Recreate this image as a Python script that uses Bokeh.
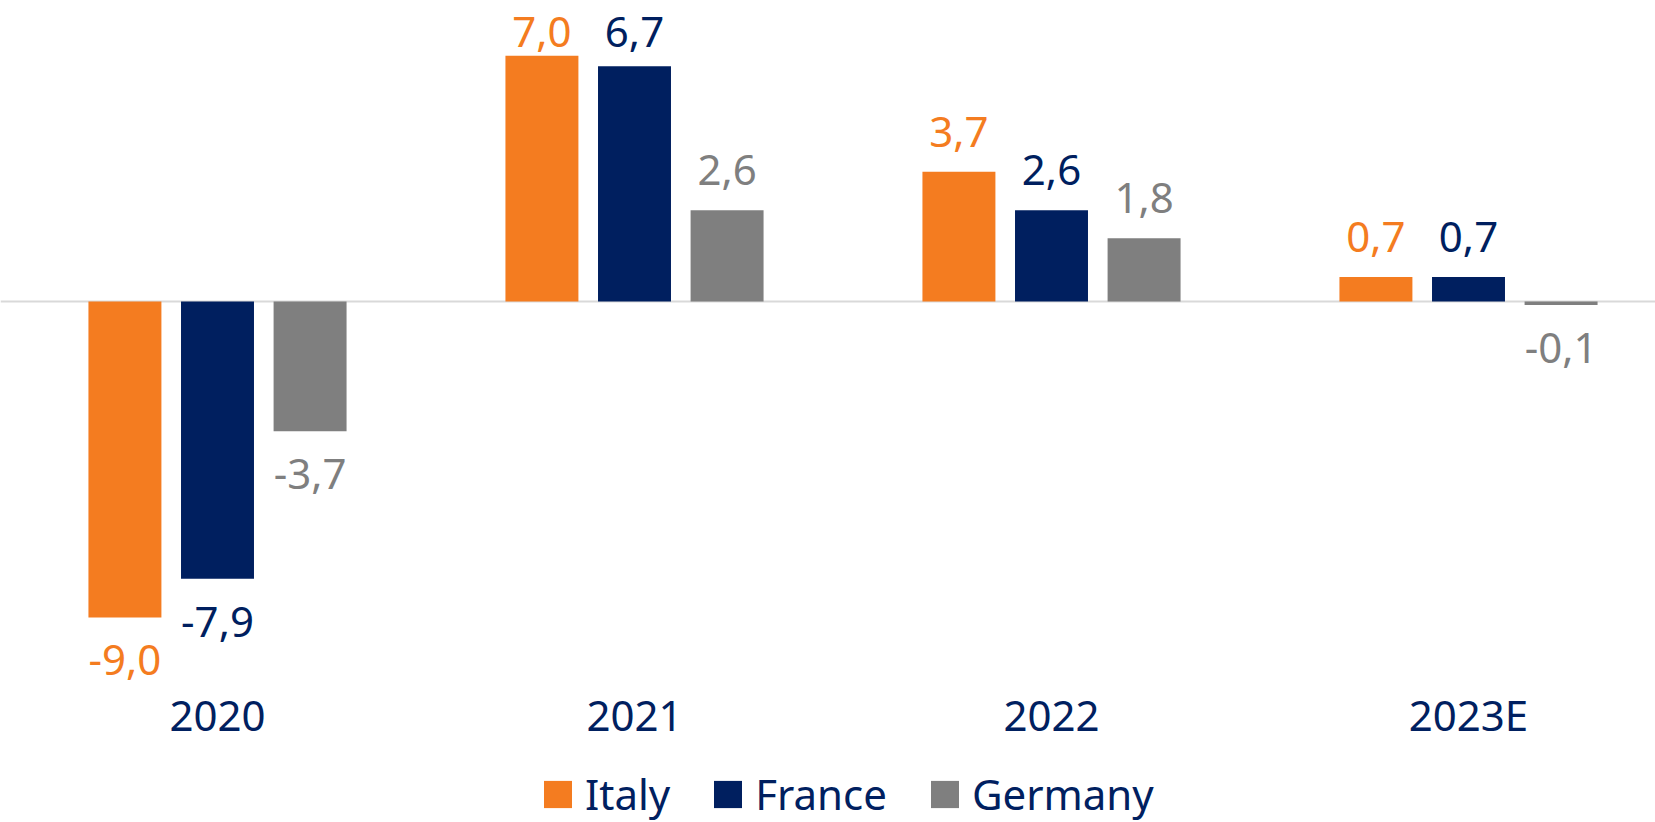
import numpy as np
from bokeh.plotting import figure
from bokeh.models import (ColumnDataSource, Range1d, Span, Legend, LegendItem,
                          FixedTicker, LinearAxis)
from bokeh.transform import dodge
from bokeh.core.properties import value
from bokeh.embed import file_html
from bokeh.resources import INLINE

# ---------------- data ----------------
years = ["2020", "2021", "2022", "2023E"]
countries = ["Italy", "France", "Germany"]
italy = [-9.0, 7.0, 3.7, 0.7]
france = [-7.9, 6.7, 2.6, 0.7]
germany = [-3.7, 2.6, 1.8, -0.1]

# ---------------- style ----------------
colors = ["#F47C20", "#001F5F", "#7F7F7F"]
navy = "#002060"
FONT = "Noto Sans"
FS = "42px"

W, H = 1655, 822
ZERO_PX = 301                       # zero line, px from top
PXU = 35.1                          # pixels per unit
Y_MAX = ZERO_PX / PXU
Y_MIN = -(H - ZERO_PX) / PXU
X_PXU = 417                         # pixels per category
X_START = -217 / X_PXU
X_END = X_START + W / X_PXU
offsets = [-0.222, 0.0, 0.222]
BAR_W = 0.175

p = figure(width=W, height=H, output_backend="svg", toolbar_location=None,
           x_range=Range1d(X_START, X_END), y_range=Range1d(Y_MIN, Y_MAX),
           x_axis_location=None, y_axis_location=None,
           min_border=0, outline_line_color=None)
p.xgrid.visible = False
p.ygrid.visible = False
p.background_fill_color = "white"
p.border_fill_color = "white"

zero = Span(location=0, dimension="width", line_color="#D9D9D9", line_width=2,
            level="underlay")
p.add_layout(zero)

# labels of bars that reach the top are kept inside the plot area
label_ceiling = Y_MAX - 71 / PXU
POS_OFF, NEG_OFF = -40, 43
renderers = []
for name, vals, col, off in zip(countries, [italy, france, germany], colors, offsets):
    v = np.array(vals)
    src = ColumnDataSource(dict(
        x=list(range(len(years))),
        val=v,
        label=[f"{a:.1f}".replace(".", ",") for a in v],
        label_y=np.minimum(v, label_ceiling),
        y_off=np.where(v >= 0, POS_OFF, NEG_OFF),
    ))
    r = p.vbar(x=dodge("x", off, range=p.x_range), top="val", bottom=0,
               width=BAR_W, fill_color=col, line_color=None, source=src)
    renderers.append(r)
    p.text(x=dodge("x", off, range=p.x_range), y="label_y", text="label",
           y_offset="y_off", text_align="center", text_baseline="alphabetic",
           text_font=value(FONT), text_font_size=FS, text_color=col, source=src)

xaxis = LinearAxis(ticker=FixedTicker(ticks=list(range(len(years)))),
                   major_label_overrides={i: y for i, y in enumerate(years)},
                   fixed_location=-(679 - ZERO_PX) / PXU,
                   axis_line_color=None, major_tick_line_color=None,
                   minor_tick_line_color=None, major_label_standoff=0,
                   major_label_text_font=FONT, major_label_text_font_size=FS,
                   major_label_text_color=navy)
p.add_layout(xaxis, "below")

legend = Legend(items=[LegendItem(label=n, renderers=[r]) for n, r in zip(countries, renderers)],
                orientation="horizontal", location=(540, 0),
                glyph_width=35, glyph_height=34, label_standoff=10, spacing=40,
                padding=0, margin=0, border_line_color=None,
                background_fill_alpha=0,
                label_text_font=FONT, label_text_font_size=FS,
                label_text_color=navy)
p.add_layout(legend, "center")

open("out.html", "w").write(file_html(p, INLINE))
